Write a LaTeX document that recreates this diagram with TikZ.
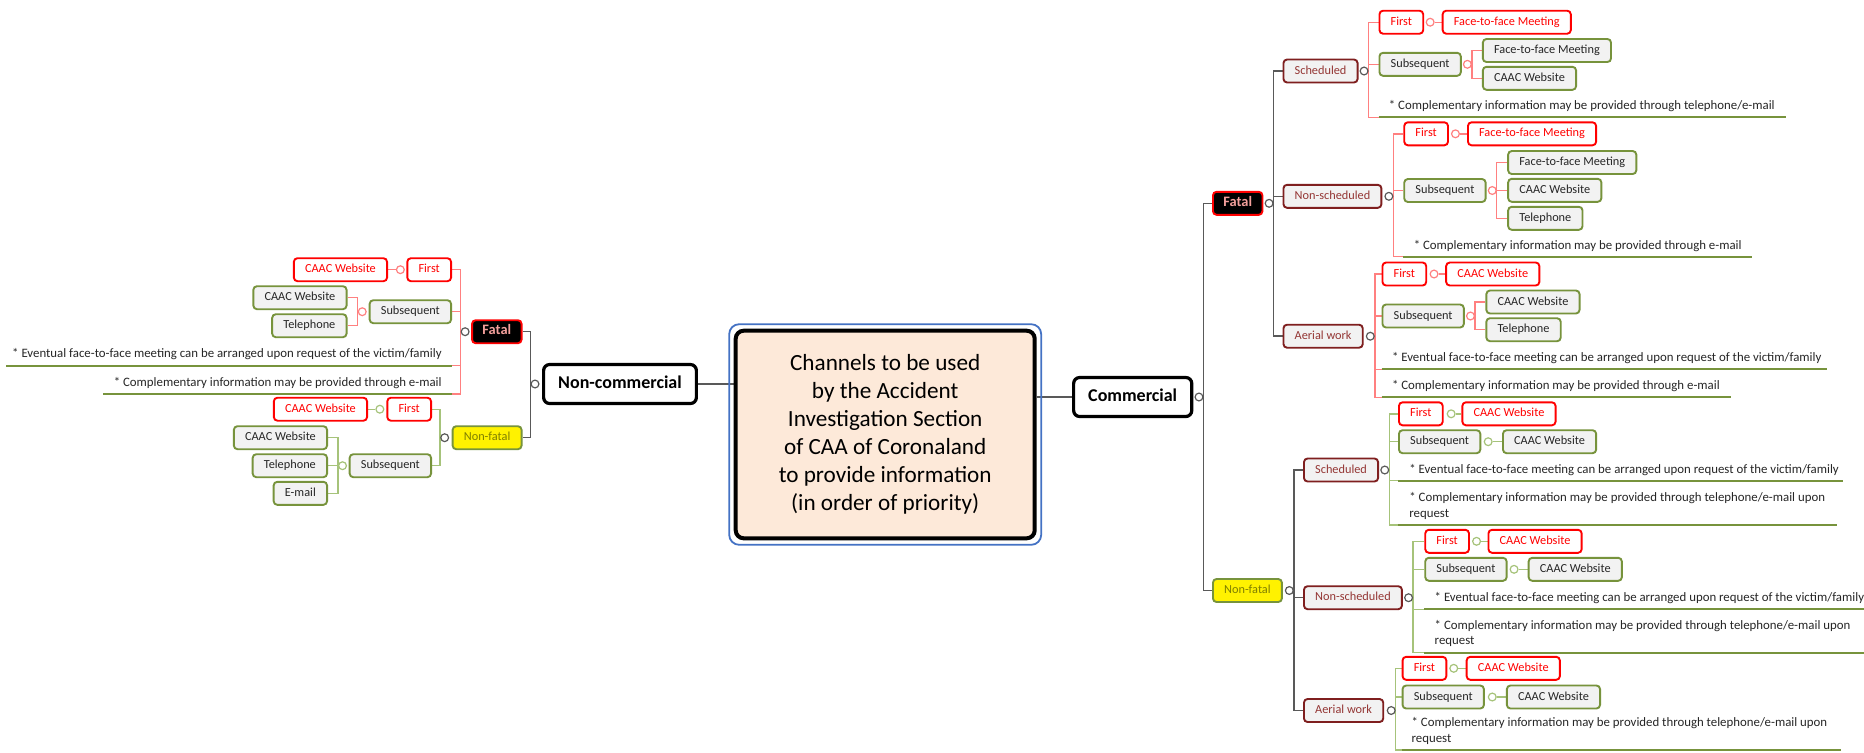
\documentclass[tikz,border=0pt]{standalone}
\usepackage{fontspec}
\setmainfont{Carlito}
\usetikzlibrary{calc}
\definecolor{olv}{HTML}{77933C}
\definecolor{lgray}{HTML}{F2F2F2}
\definecolor{dred}{HTML}{7F1F1F}
\definecolor{dredtxt}{HTML}{943634}
\definecolor{redln}{HTML}{FF8080}
\definecolor{grnln}{HTML}{A6C37A}
\definecolor{gryln}{HTML}{595959}
\definecolor{peach}{HTML}{FDE9D9}
\definecolor{cblue}{HTML}{4472C4}
\definecolor{txtg}{HTML}{262626}
\definecolor{fataltxt}{HTML}{F4A09C}
\definecolor{nftxt}{HTML}{7F7F00}
\pgfdeclarelayer{bg}
\pgfsetlayers{bg,main}
\begin{document}
\begin{tikzpicture}[x=0.5pt,y=-0.5pt,
  sm/.style={font=\fontsize{6.15}{7.75}\selectfont},
  box/.style={sm, rounded corners=1.8pt, line width=0.95pt, minimum height=11.5pt, inner xsep=5.6pt, inner ysep=0pt, text height=4.3pt, text depth=1.3pt},
  rbox/.style={box, draw=red, fill=white, text=red},
  gbox/.style={box, draw=olv, fill=lgray, text=txtg},
  dbox/.style={box, draw=dred, fill=lgray, text=dredtxt},
  fbox/.style={box, draw=red, fill=black, text=fataltxt, font=\fontsize{7.2}{8}\selectfont\bfseries, inner xsep=5.2pt},
  nfbox/.style={box, draw=olv, fill=yellow, text=nftxt},
  topbox/.style={draw=black, fill=white, line width=1.6pt, rounded corners=3pt, minimum height=19.5pt, inner xsep=7.3pt, inner ysep=0pt, font=\fontsize{9}{10}\selectfont\bfseries, text height=6.3pt, text depth=1.9pt},
  knob/.style={circle, draw=#1, fill=white, line width=0.6pt, minimum size=3.9pt, inner sep=0pt},
  knob/.default=gryln,
  gl/.style={draw=gryln, line width=0.75pt},
  rl/.style={draw=redln, line width=0.7pt},
  nl/.style={draw=grnln, line width=0.7pt},
  ul/.style={draw=olv, line width=1pt},
  note/.style={font=\fontsize{6.42}{7.8}\selectfont, text=txtg, inner sep=0pt},
]
\useasboundingbox (0,0) rectangle (1864,752);

% ---------- centre ----------
\node[draw=black, fill=peach, line width=2pt, rounded corners=4pt, minimum width=149.5pt, minimum height=103.8pt, align=center, font=\fontsize{11.6}{14}\selectfont, inner sep=0pt, text=black] (cen) at (885.2,434.5) {Channels to be used\\by the Accident\\Investigation Section\\of CAA of Coronaland\\to provide information\\(in order of priority)};
\draw[cblue, line width=0.9pt, rounded corners=5pt] ($(cen.north west)+(-4.5,-4.5)$) rectangle ($(cen.south east)+(4.5,4.5)$);

\node[topbox] (ncom) at (620,384) {Non-commercial};
\node[topbox] (com) at (1132.7,397) {Commercial};

% ---------- left: non-commercial ----------
\node[knob] (kncom) at ($(ncom.west)+(-7,0)$) {};
\node[fbox, anchor=east] (lf) at (522.5,331.7) {Fatal};
\node[nfbox, anchor=east] (lnf) at (522.5,437.7) {Non-fatal};

\node[knob] (klf) at ($(lf.west)+(-6,0)$) {};
\node[rbox, anchor=east] (lf1) at (452,269.7) {First};
\node[gbox, anchor=east] (lf2) at (452,311.7) {Subsequent};
\coordinate (lfn1s) at (6.4,365.7); \coordinate (lfn1e) at (452,365.7);
\coordinate (lfn2s) at (103,394); \coordinate (lfn2e) at (452,394);
\node[note, anchor=base east] (lfn1) at (442,357.7) {* Eventual face-to-face meeting can be arranged upon request of the victim/family};
\node[note, anchor=base east] (lfn2) at (442,386) {* Complementary information may be provided through e-mail};
\node[knob=redln] (klf1) at ($(lf1.west)+(-6,0)$) {};
\node[rbox, anchor=east] (lf1a) at (388,269.7) {CAAC Website};
\node[knob=redln] (klf2) at ($(lf2.west)+(-6.5,0)$) {};
\node[gbox, anchor=east] (lf2a) at (347.5,297.7) {CAAC Website};
\node[gbox, anchor=east] (lf2b) at (347.5,325.7) {Telephone};

\node[knob] (klnf) at ($(lnf.west)+(-7,0)$) {};
\node[rbox, anchor=east] (ln1) at (432,409.2) {First};
\node[gbox, anchor=east] (ln2) at (432,465.7) {Subsequent};
\node[knob=grnln] (kln1) at ($(ln1.west)+(-6.5,0)$) {};
\node[rbox, anchor=east] (ln1a) at (368,409.2) {CAAC Website};
\node[knob=grnln] (kln2) at ($(ln2.west)+(-6.2,0)$) {};
\node[gbox, anchor=east] (ln2a) at (328,437.7) {CAAC Website};
\node[gbox, anchor=east] (ln2b) at (328,465.7) {Telephone};
\node[gbox, anchor=east] (ln2c) at (328,493.3) {E-mail};

% ---------- right: commercial ----------
\node[knob] (kcom) at ($(com.east)+(5.6,0)$) {};
\node[fbox, anchor=west] (rf) at (1212,203.3) {Fatal};
\node[nfbox, anchor=west] (rnf) at (1212,590.5) {Non-fatal};

\node[knob] (krf) at ($(rf.east)+(5.7,0)$) {};
\node[dbox, anchor=west] (fs) at (1282.5,71) {Scheduled};
\node[dbox, anchor=west] (fn) at (1282.5,196.3) {Non-scheduled};
\node[dbox, anchor=west] (fa) at (1282.5,336.2) {Aerial work};

% fatal / scheduled
\node[knob] (kfs) at ($(fs.east)+(5.5,0)$) {};
\node[rbox, anchor=west] (fs1) at (1378.5,22.2) {First};
\node[gbox, anchor=west] (fs2) at (1378.5,64.3) {Subsequent};
\coordinate (fsn1s) at (1378.5,117.3); \coordinate (fsn1e) at (1786.3,117.3);
\node[note, anchor=base west] (fsn1) at (1388.5,109.8) {* Complementary information may be provided through telephone/e-mail};
\node[knob=redln] (kfs1) at ($(fs1.east)+(6,0)$) {};
\node[rbox, anchor=west] (fs1a) at (1441.7,22.2) {Face-to-face Meeting};
\node[knob=redln] (kfs2) at ($(fs2.east)+(5.6,0)$) {};
\node[gbox, anchor=west] (fs2a) at (1481.9,50.5) {Face-to-face Meeting};
\node[gbox, anchor=west] (fs2b) at (1481.9,78.3) {CAAC Website};

% fatal / non-scheduled
\node[knob] (kfn) at ($(fn.east)+(6.5,0)$) {};
\node[rbox, anchor=west] (fn1) at (1403.3,133.8) {First};
\node[gbox, anchor=west] (fn2) at (1403.3,190.5) {Subsequent};
\coordinate (fnn1s) at (1403.3,256.7); \coordinate (fnn1e) at (1751.5,256.7);
\node[note, anchor=base west] (fnn1) at (1413.4,249.2) {* Complementary information may be provided through e-mail};
\node[knob=redln] (kfn1) at ($(fn1.east)+(6.5,0)$) {};
\node[rbox, anchor=west] (fn1a) at (1467,133.8) {Face-to-face Meeting};
\node[knob=redln] (kfn2) at ($(fn2.east)+(5.7,0)$) {};
\node[gbox, anchor=west] (fn2a) at (1507.2,162.5) {Face-to-face Meeting};
\node[gbox, anchor=west] (fn2b) at (1507.2,190.3) {CAAC Website};
\node[gbox, anchor=west] (fn2c) at (1507.2,218.3) {Telephone};

% fatal / aerial work
\node[knob] (kfa) at ($(fa.east)+(6.6,0)$) {};
\node[rbox, anchor=west] (fa1) at (1381.5,274) {First};
\node[gbox, anchor=west] (fa2) at (1381.5,316) {Subsequent};
\coordinate (fan1s) at (1381.5,369.3); \coordinate (fan1e) at (1826.5,369.3);
\coordinate (fan2s) at (1381.5,397.3); \coordinate (fan2e) at (1730.5,397.3);
\node[note, anchor=base west] (fan1) at (1391.6,361.8) {* Eventual face-to-face meeting can be arranged upon request of the victim/family};
\node[note, anchor=base west] (fan2) at (1391.6,389.8) {* Complementary information may be provided through e-mail};
\node[knob=redln] (kfa1) at ($(fa1.east)+(6.9,0)$) {};
\node[rbox, anchor=west] (fa1a) at (1445.2,274) {CAAC Website};
\node[knob=redln] (kfa2) at ($(fa2.east)+(5.7,0)$) {};
\node[gbox, anchor=west] (fa2a) at (1485.4,302) {CAAC Website};
\node[gbox, anchor=west] (fa2b) at (1485.4,329.7) {Telephone};

% non-fatal
\node[knob] (krnf) at ($(rnf.east)+(6.5,0)$) {};
\node[dbox, anchor=west] (ns) at (1303,470) {Scheduled};
\node[dbox, anchor=west] (nn) at (1303,597.7) {Non-scheduled};
\node[dbox, anchor=west] (na) at (1303,710.5) {Aerial work};

% non-fatal / scheduled
\node[knob] (kns) at ($(ns.east)+(5.7,0)$) {};
\node[rbox, anchor=west] (ns1) at (1398,413.8) {First};
\node[gbox, anchor=west] (ns2) at (1398,441.7) {Subsequent};
\coordinate (nsn1s) at (1398,480.7); \coordinate (nsn1e) at (1843,480.7);
\coordinate (nsn2s) at (1398,525); \coordinate (nsn2e) at (1836.5,525);
\node[note, anchor=base west] (nsn1) at (1409,473.2) {* Eventual face-to-face meeting can be arranged upon request of the victim/family};
\node[note, anchor=base west] (nsn2) at (1409,501.5) {\parbox[t]{300pt}{* Complementary information may be provided through telephone/e-mail upon\\request}};
\node[knob=grnln] (kns1) at ($(ns1.east)+(7.5,0)$) {};
\node[rbox, anchor=west] (ns1a) at (1461.4,413.8) {CAAC Website};
\node[knob=grnln] (kns2) at ($(ns2.east)+(6.9,0)$) {};
\node[gbox, anchor=west] (ns2a) at (1502,441.7) {CAAC Website};

% non-fatal / non-scheduled
\node[knob] (knn) at ($(nn.east)+(5.7,0)$) {};
\node[rbox, anchor=west] (nn1) at (1424.3,541.3) {First};
\node[gbox, anchor=west] (nn2) at (1424.3,569.3) {Subsequent};
\coordinate (nnn1s) at (1424.3,609.3); \coordinate (nnn1e) at (1864,609.3);
\coordinate (nnn2s) at (1424.3,652.7); \coordinate (nnn2e) at (1864,652.7);
\node[note, anchor=base west] (nnn1) at (1434.3,601.8) {* Eventual face-to-face meeting can be arranged upon request of the victim/family};
\node[note, anchor=base west] (nnn2) at (1434.3,629.2) {\parbox[t]{300pt}{* Complementary information may be provided through telephone/e-mail upon\\request}};
\node[knob=grnln] (knn1) at ($(nn1.east)+(6.6,0)$) {};
\node[rbox, anchor=west] (nn1a) at (1487.5,541.3) {CAAC Website};
\node[knob=grnln] (knn2) at ($(nn2.east)+(6.5,0)$) {};
\node[gbox, anchor=west] (nn2a) at (1527.7,569.3) {CAAC Website};

% non-fatal / aerial work
\node[knob] (kna) at ($(na.east)+(7,0)$) {};
\node[rbox, anchor=west] (na1) at (1401.6,668.3) {First};
\node[gbox, anchor=west] (na2) at (1401.6,697) {Subsequent};
\coordinate (nan1s) at (1401.6,750); \coordinate (nan1e) at (1841,750);
\node[note, anchor=base west] (nan1) at (1411.2,726.5) {\parbox[t]{300pt}{* Complementary information may be provided through telephone/e-mail upon\\request}};
\node[knob=grnln] (kna1) at ($(na1.east)+(6.5,0)$) {};
\node[rbox, anchor=west] (na1a) at (1465.7,668.3) {CAAC Website};
\node[knob=grnln] (kna2) at ($(na2.east)+(7.4,0)$) {};
\node[gbox, anchor=west] (na2a) at (1505.9,697) {CAAC Website};

% ---------- connectors ----------
\begin{pgfonlayer}{bg}
\fill[white] (0,0) rectangle (1864,752);
\draw[gl] (ncom.east) -- (cen.west |- ncom.east);
\draw[gl] (cen.east |- com.west) -- (com.west);
% left
\draw[gl] (kncom.west) |- (lf.east);
\draw[gl] (kncom.west) |- (lnf.east);
\draw[rl] (klf.west) |- (lf1.east);
\draw[rl] (klf.west) |- (lf2.east);
\draw[rl] (klf.west) |- (lfn1e);
\draw[rl] (klf.west) |- (lfn2e);
\draw[rl] (klf1.west) -- (lf1a.east);
\draw[rl] (klf2.west) |- (lf2a.east);
\draw[rl] (klf2.west) |- (lf2b.east);
\draw[nl] (klnf.west) |- (ln1.east);
\draw[nl] (klnf.west) |- (ln2.east);
\draw[nl] (kln1.west) -- (ln1a.east);
\draw[nl] (kln2.west) |- (ln2a.east);
\draw[nl] (kln2.west) |- (ln2b.east);
\draw[nl] (kln2.west) |- (ln2c.east);
% right
\draw[gl] (kcom.east) |- (rf.west);
\draw[gl] (kcom.east) |- (rnf.west);
\draw[gl] (krf.east) |- (fs.west);
\draw[gl] (krf.east) |- (fn.west);
\draw[gl] (krf.east) |- (fa.west);
\draw[rl] (kfs.east) |- (fs1.west);
\draw[rl] (kfs.east) |- (fs2.west);
\draw[rl] (kfs.east) |- (fsn1s);
\draw[rl] (kfs1.east) -- (fs1a.west);
\draw[rl] (kfs2.east) |- (fs2a.west);
\draw[rl] (kfs2.east) |- (fs2b.west);
\draw[rl] (kfn.east) |- (fn1.west);
\draw[rl] (kfn.east) |- (fn2.west);
\draw[rl] (kfn.east) |- (fnn1s);
\draw[rl] (kfn1.east) -- (fn1a.west);
\draw[rl] (kfn2.east) |- (fn2a.west);
\draw[rl] (kfn2.east) |- (fn2b.west);
\draw[rl] (kfn2.east) |- (fn2c.west);
\draw[rl] (kfa.east) |- (fa1.west);
\draw[rl] (kfa.east) |- (fa2.west);
\draw[rl] (kfa.east) |- (fan1s);
\draw[rl] (kfa.east) |- (fan2s);
\draw[rl] (kfa1.east) -- (fa1a.west);
\draw[rl] (kfa2.east) |- (fa2a.west);
\draw[rl] (kfa2.east) |- (fa2b.west);
\draw[gl] (krnf.east) |- (ns.west);
\draw[gl] (krnf.east) |- (nn.west);
\draw[gl] (krnf.east) |- (na.west);
\draw[nl] (kns.east) |- (ns1.west);
\draw[nl] (kns.east) |- (ns2.west);
\draw[nl] (kns.east) |- (nsn1s);
\draw[nl] (kns.east) |- (nsn2s);
\draw[nl] (kns1.east) -- (ns1a.west);
\draw[nl] (kns2.east) -- (ns2a.west);
\draw[nl] (knn.east) |- (nn1.west);
\draw[nl] (knn.east) |- (nn2.west);
\draw[nl] (knn.east) |- (nnn1s);
\draw[nl] (knn.east) |- (nnn2s);
\draw[nl] (knn1.east) -- (nn1a.west);
\draw[nl] (knn2.east) -- (nn2a.west);
\draw[nl] (kna.east) |- (na1.west);
\draw[nl] (kna.east) |- (na2.west);
\draw[nl] (kna.east) |- (nan1s);
\draw[nl] (kna1.east) -- (na1a.west);
\draw[nl] (kna2.east) -- (na2a.west);
\end{pgfonlayer}
% ---------- note underlines ----------
\draw[ul] (lfn1s) -- (lfn1e);
\draw[ul] (lfn2s) -- (lfn2e);
\draw[ul] (fsn1s) -- (fsn1e);
\draw[ul] (fnn1s) -- (fnn1e);
\draw[ul] (fan1s) -- (fan1e);
\draw[ul] (fan2s) -- (fan2e);
\draw[ul] (nsn1s) -- (nsn1e);
\draw[ul] (nsn2s) -- (nsn2e);
\draw[ul] (nnn1s) -- (nnn1e);
\draw[ul] (nnn2s) -- (nnn2e);
\draw[ul] (nan1s) -- (nan1e);
\end{tikzpicture}
\end{document}
